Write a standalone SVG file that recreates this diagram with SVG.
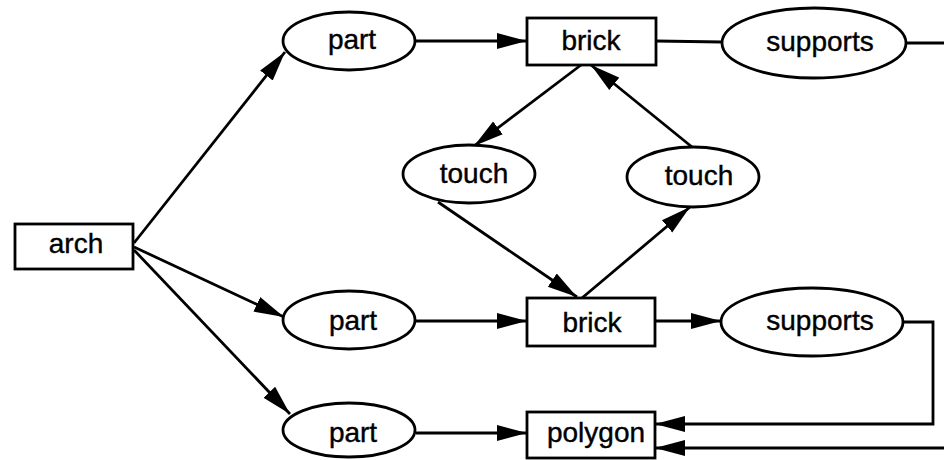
<svg xmlns="http://www.w3.org/2000/svg" width="944" height="460" viewBox="0 0 944 460">
<defs>
<marker id="ah" markerUnits="userSpaceOnUse" markerWidth="32" markerHeight="18" refX="30" refY="9" orient="auto">
<path d="M0,1 L30,9 L0,17 z" fill="#000"/>
</marker>
<style>
.n{fill:#fff;stroke:#000;stroke-width:2.8}
.t{font-family:"Liberation Sans",Arial,Helvetica,sans-serif;font-size:28px;fill:#000;stroke:#000;stroke-width:0.4;text-anchor:middle}
.e{fill:none;stroke:#000;stroke-width:2.8}
.a{marker-end:url(#ah)}
</style>
</defs>
<rect width="944" height="460" fill="#fff"/>
<g id="connectors">
<line class="e a" x1="134" y1="243" x2="285" y2="52"/>
<line class="e a" x1="134" y1="247" x2="284" y2="317"/>
<line class="e a" x1="134" y1="250" x2="290" y2="414"/>
<line class="e a" x1="415" y1="41" x2="527" y2="41"/>
<line class="e" x1="656" y1="41" x2="722" y2="42"/>
<line class="e" x1="906" y1="43" x2="944" y2="43"/>
<line class="e a" x1="581" y1="65" x2="474" y2="146"/>
<line class="e a" x1="692" y1="147" x2="591" y2="65"/>
<line class="e a" x1="438" y1="202" x2="577" y2="297"/>
<line class="e a" x1="582" y1="298" x2="690" y2="207"/>
<line class="e a" x1="415" y1="321" x2="527" y2="321"/>
<line class="e a" x1="655" y1="321" x2="721" y2="321"/>
<path class="e a" d="M902,322 H933 V424 H655"/>
<line class="e a" x1="944" y1="448" x2="655" y2="448"/>
<line class="e a" x1="416" y1="433" x2="527" y2="433"/>
</g>
<g id="arch"><rect class="n" x="15" y="224" width="118" height="45"/><text class="t" x="76" y="253">arch</text></g>
<g id="part1"><ellipse class="n" cx="349" cy="41" rx="66" ry="29"/><text class="t" x="352" y="49">part</text></g>
<g id="brick1"><rect class="n" x="527" y="18" width="129" height="47"/><text class="t" x="591" y="50">brick</text></g>
<g id="supports1"><ellipse class="n" cx="814" cy="43" rx="92" ry="35"/><text class="t" x="820" y="51">supports</text></g>
<g id="touch1"><ellipse class="n" cx="469" cy="174" rx="66" ry="29"/><text class="t" x="474" y="183">touch</text></g>
<g id="touch2"><ellipse class="n" cx="693" cy="177" rx="66" ry="30"/><text class="t" x="699" y="185">touch</text></g>
<g id="part2"><ellipse class="n" cx="349" cy="320" rx="66" ry="29"/><text class="t" x="353" y="330">part</text></g>
<g id="brick2"><rect class="n" x="527" y="298" width="128" height="48"/><text class="t" x="592" y="332">brick</text></g>
<g id="supports2"><ellipse class="n" cx="812" cy="322" rx="91" ry="34"/><text class="t" x="820" y="330">supports</text></g>
<g id="part3"><ellipse class="n" cx="349" cy="430" rx="66" ry="27"/><text class="t" x="353" y="442">part</text></g>
<g id="polygon"><rect class="n" x="527" y="412" width="128" height="46"/><text class="t" x="596" y="442">polygon</text></g>
</svg>
